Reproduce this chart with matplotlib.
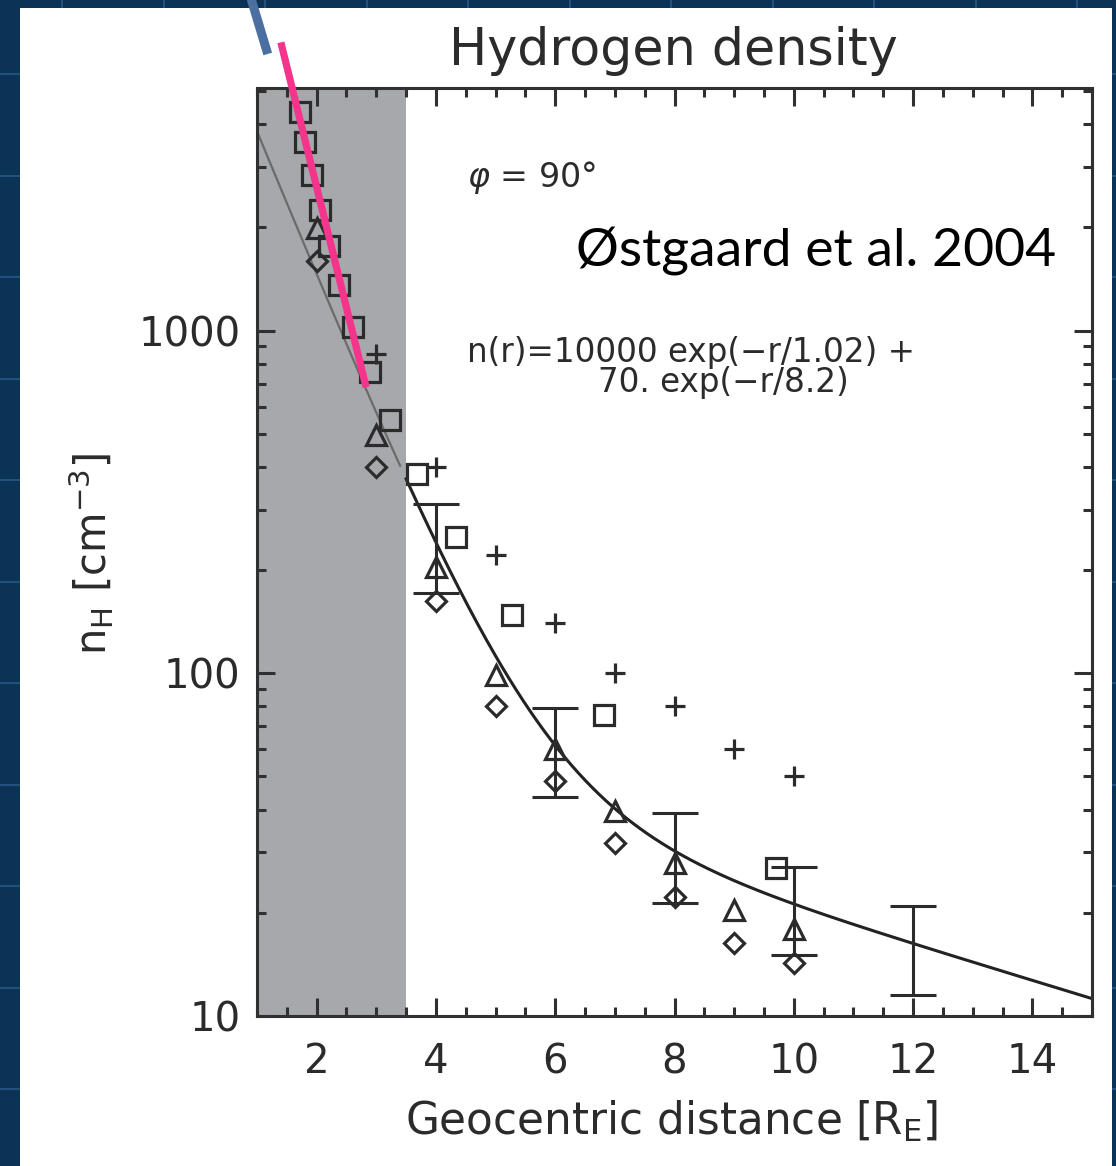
import numpy as np
import matplotlib.pyplot as plt
from matplotlib.patches import Rectangle
from matplotlib.lines import Line2D
from matplotlib.ticker import MultipleLocator, LogLocator, FuncFormatter, NullFormatter

plt.rcParams['font.family'] = ['DejaVu Sans']
plt.rcParams['mathtext.fontset'] = 'dejavusans'

# fit from the paper: n(r) = A1 exp(-r/L1) + A2 exp(-r/L2)
FIT_A1, FIT_L1 = 10000.0, 1.02
FIT_A2, FIT_L2 = 70.0, 8.2

# observations (geocentric distance in R_E, density in cm^-3)
sq_r = [1.72, 1.81, 1.92, 2.05, 2.21, 2.37, 2.61, 2.89, 3.23, 3.69, 4.34, 5.28, 6.81, 9.70]
sq_n = [4350, 3540, 2850, 2240, 1760, 1360, 1027, 756, 547, 382, 250, 148, 75.5, 27.0]

tri_r = [2, 3, 4, 5, 6, 7, 8, 9, 10]
tri_n = [1990, 494, 204, 99, 60, 39.6, 27.9, 20.4, 17.9]

dia_r = [2, 3, 4, 5, 6, 7, 8, 9, 10]
dia_n = [1600, 401, 163, 80.2, 48.4, 32.0, 22.3, 16.3, 14.3]

plus_r = [3, 4, 5, 6, 7, 8, 9, 10]
plus_n = [855, 400, 221, 140, 100, 80, 60, 50]

err_r = [4, 6, 8, 10, 12]
err_lo = [171, 43.6, 21.4, 15.1, 11.5]
err_hi = [311, 79.4, 39.0, 27.2, 21.0]

# steeper inner fit drawn over the plot, and the slide's blue bar above it
pink_r = [1.40, 2.83]
pink_n = [6930, 683]
blue_r = [0.81, 1.18]
blue_n = [10480, 6410]

SHADE_END = 3.5
INK = '#2b2b2b'

W, H = 1116, 1166


def model(r):
    return FIT_A1 * np.exp(-r / FIT_L1) + FIT_A2 * np.exp(-r / FIT_L2)


fig = plt.figure(figsize=(W / 100, H / 100), dpi=100)
fig.patch.set_facecolor('#0b3356')

# slide background grid
for px in np.arange(62, W, 101.5):
    fig.add_artist(Line2D([px / W, px / W], [0, 1], transform=fig.transFigure,
                          color='#24507e', lw=1.5, zorder=-3))
for py in np.arange(74, H, 101.5):
    fig.add_artist(Line2D([0, 1], [1 - py / H, 1 - py / H], transform=fig.transFigure,
                          color='#24507e', lw=1.5, zorder=-3))
fig.add_artist(Rectangle((20 / W, 0), 1092 / W, 1158 / H, transform=fig.transFigure,
                         facecolor='white', edgecolor='none', zorder=-1))

ax = fig.add_axes([257 / W, 1 - 1016 / H, 835 / W, 928 / H])
ax.set_facecolor('white')
ax.set_yscale('log')
ax.set_xlim(1, 15)
ax.set_ylim(10, 5100)

ax.axvspan(1, SHADE_END, color='#a7a8ab', lw=0, zorder=0)

r_in = np.linspace(1, 3.4, 100)
r_out = np.linspace(SHADE_END, 15, 300)
ax.plot(r_in, model(r_in), color='#6b6b6b', lw=1.6, zorder=2)
ax.plot(r_out, model(r_out), color='#222222', lw=2.2, zorder=2)

mk = dict(linestyle='none', color=INK, mfc='none', mec=INK, mew=2.3, zorder=3)
ax.plot(sq_r, sq_n, marker='s', ms=14, **mk)
ax.plot(tri_r, tri_n, marker='^', ms=15, **mk)
ax.plot(dia_r, dia_n, marker='D', ms=10, **mk)
ax.plot(plus_r, plus_n, marker='+', ms=14, **mk)

err_lo = np.array(err_lo)
err_hi = np.array(err_hi)
err_mid = np.sqrt(err_lo * err_hi)
ax.errorbar(err_r, err_mid, yerr=[err_mid - err_lo, err_hi - err_mid], fmt='none',
            ecolor=INK, elinewidth=2.2, capsize=16.5, capthick=2.2, zorder=3)

ax.plot(pink_r, pink_n, color='#f5358c', lw=5.2, solid_capstyle='butt',
        clip_on=False, zorder=6)
ax.plot(blue_r, blue_n, color='#4a6fa0', lw=6.5, solid_capstyle='butt',
        clip_on=False, zorder=6)

# axes styling
for s in ax.spines.values():
    s.set_linewidth(2.2)
    s.set_color('#303030')
ax.xaxis.set_major_locator(MultipleLocator(2))
ax.xaxis.set_minor_locator(MultipleLocator(0.5))
ax.yaxis.set_major_locator(LogLocator(base=10))
ax.yaxis.set_minor_locator(LogLocator(base=10, subs=np.arange(2, 10)))
ax.yaxis.set_major_formatter(FuncFormatter(lambda v, p: f'{v:g}'))
ax.yaxis.set_minor_formatter(NullFormatter())
ax.tick_params(which='both', direction='in', top=True, right=True,
               width=2.2, color='#303030', labelcolor=INK, labelsize=29)
ax.tick_params(which='major', length=13)
ax.tick_params(which='minor', length=6.5)
ax.tick_params(axis='x', pad=19)
ax.tick_params(axis='y', pad=12)

fig.text(673 / W, 1 - 65 / H, 'Hydrogen density', ha='center', va='baseline',
         fontsize=36.5, color=INK)
fig.text(672 / W, 1 - 1135 / H, r'Geocentric distance [R$_\mathregular{E}$]',
         ha='center', va='baseline', fontsize=31.5, color=INK)
fig.text(107 / W, 1 - 554 / H, r'n$_\mathregular{H}$ [cm$^\mathregular{-3}$]',
         ha='center', va='baseline', rotation=90, rotation_mode='anchor',
         fontsize=30, color=INK)

fig.text(467 / W, 1 - 187 / H, r'$\varphi$ = 90°', ha='left', va='baseline',
         fontsize=24, color=INK)
fig.text(1056 / W, 1 - 267 / H, 'Østgaard et al. 2004', ha='right', va='baseline',
         fontsize=38.5, family=['Lato', 'DejaVu Sans'], color='black')
fig.text(467 / W, 1 - 362 / H, 'n(r)=10000 exp(\u2212r/1.02) +', ha='left',
         va='baseline', fontsize=23.5, color=INK)
fig.text(598 / W, 1 - 392 / H, '70. exp(\u2212r/8.2)', ha='left',
         va='baseline', fontsize=23.5, color=INK)

fig.savefig('out.png', dpi=100, facecolor=fig.get_facecolor())
